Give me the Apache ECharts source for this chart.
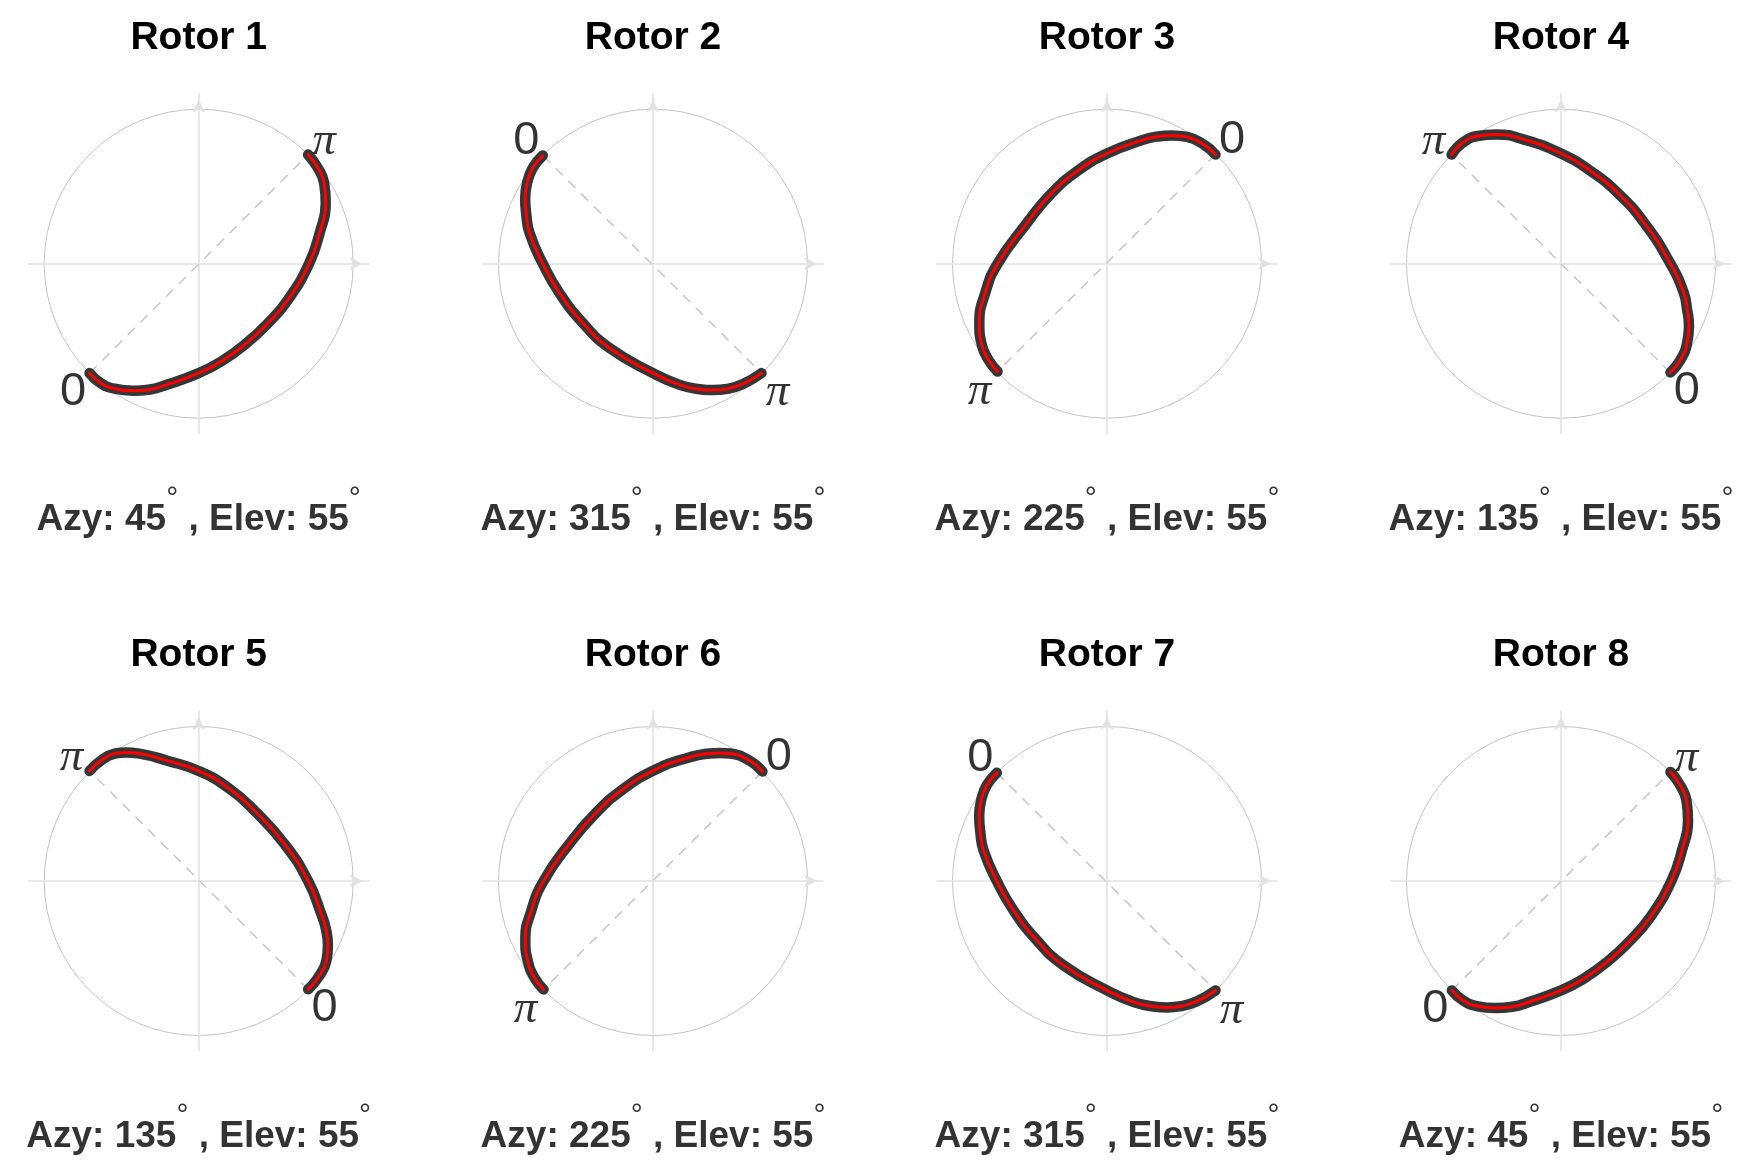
<!DOCTYPE html>
<html><head><meta charset="utf-8">
<script src="https://cdn.jsdelivr.net/npm/echarts/dist/echarts.min.js"></script>
<style>html,body{margin:0;padding:0;background:#fff}#c{width:1748px;height:1166px}</style>
</head><body><div id="c"></div>
<script>
// ---- data (unit circle coordinates, each curve listed from the "0" end to the "π" end) ----
const titles = ['Rotor 1', 'Rotor 2', 'Rotor 3', 'Rotor 4', 'Rotor 5', 'Rotor 6', 'Rotor 7', 'Rotor 8'];
const azimuths = [45, 315, 225, 135, 135, 225, 315, 45];
const elevations = [55, 55, 55, 55, 55, 55, 55, 55];
const endLabels = ['0', 'π'];

const rotor1 = [[-0.706,-0.708],[-0.635,-0.772],[-0.545,-0.809],[-0.425,-0.822],[-0.315,-0.814],[-0.198,-0.780],[0,-0.708],[0.147,-0.632],[0.298,-0.524],[0.449,-0.384],[0.578,-0.233],[0.714,0],[0.783,0.200],[0.822,0.390],[0.812,0.520],[0.772,0.618],[0.708,0.706]];
const rotor2 = [[-0.713,0.700],[-0.778,0.620],[-0.815,0.520],[-0.827,0.420],[-0.820,0.320],[-0.799,0.199],[-0.713,0],[-0.605,-0.190],[-0.454,-0.384],[-0.281,-0.546],[0,-0.708],[0.173,-0.784],[0.300,-0.812],[0.390,-0.818],[0.480,-0.810],[0.583,-0.778],[0.702,-0.708]];
const rotor3 = [[0.702,0.706],[0.626,0.771],[0.518,0.820],[0.420,0.830],[0.320,0.822],[0.238,0.803],[0,0.713],[-0.194,0.598],[-0.367,0.447],[-0.518,0.263],[-0.708,0],[-0.788,-0.190],[-0.826,-0.384],[-0.810,-0.525],[-0.767,-0.622],[-0.708,-0.698]];
const rotor4 = [[0.708,-0.704],[0.773,-0.622],[0.816,-0.514],[0.828,-0.400],[0.815,-0.290],[0.795,-0.190],[0.708,0],[0.540,0.263],[0.367,0.458],[0.194,0.598],[0,0.713],[-0.238,0.803],[-0.420,0.836],[-0.540,0.826],[-0.637,0.782],[-0.708,0.706]];
const rotor5 = [[0.708,-0.701],[0.772,-0.626],[0.826,-0.518],[0.836,-0.415],[0.823,-0.310],[0.794,-0.216],[0.708,0],[0.557,0.237],[0.363,0.453],[0.190,0.604],[0,0.712],[-0.198,0.777],[-0.393,0.826],[-0.470,0.832],[-0.544,0.824],[-0.630,0.781],[-0.706,0.712]];
const rotor6 = [[0.708,0.708],[0.626,0.778],[0.497,0.825],[0.430,0.829],[0.367,0.825],[0.194,0.788],[0,0.713],[-0.194,0.594],[-0.367,0.443],[-0.540,0.242],[-0.708,0],[-0.788,-0.194],[-0.826,-0.380],[-0.810,-0.518],[-0.767,-0.626],[-0.708,-0.702]];
const rotor7 = [[-0.713,0.700],[-0.778,0.620],[-0.815,0.520],[-0.827,0.420],[-0.820,0.320],[-0.799,0.199],[-0.713,0],[-0.605,-0.190],[-0.454,-0.384],[-0.281,-0.546],[0,-0.708],[0.173,-0.784],[0.300,-0.812],[0.390,-0.818],[0.480,-0.810],[0.583,-0.778],[0.702,-0.708]];
const rotor8 = [[-0.706,-0.708],[-0.635,-0.772],[-0.545,-0.809],[-0.425,-0.822],[-0.315,-0.814],[-0.198,-0.780],[0,-0.708],[0.147,-0.632],[0.298,-0.524],[0.449,-0.384],[0.578,-0.233],[0.714,0],[0.783,0.200],[0.822,0.390],[0.812,0.520],[0.772,0.618],[0.708,0.706]];
const curves = [rotor1, rotor2, rotor3, rotor4, rotor5, rotor6, rotor7, rotor8];

// ---- layout ----
const colX = [198.7, 653, 1107, 1561];
const rowY = [263.7, 881];
const HALF = 170;          // half size of each plot box (px)
const R = 154.5;           // circle radius (px) == 1 data unit
const SANS = '"Liberation Sans", Arial, Helvetica, sans-serif';

const grid = [], xAxis = [], yAxis = [], polar = [], angleAxis = [], radiusAxis = [], series = [], graphic = [];

curves.forEach((c, i) => {
  const cx = colX[i % 4], cy = rowY[Math.floor(i / 4)];
  grid.push({left: cx - HALF, top: cy - HALF, width: 2 * HALF, height: 2 * HALF});
  const ax = () => ({
    type: 'value', min: -1.1, max: 1.1, gridIndex: i,
    axisTick: {show: false}, axisLabel: {show: false}, splitLine: {show: false},
    axisLine: {show: true, onZero: true, symbol: ['none', 'arrow'], symbolSize: [10, 13], symbolOffset: [0, -6],
      lineStyle: {color: '#e2e2e2', width: 1.6}}
  });
  xAxis.push(ax());
  yAxis.push(ax());
  polar.push({center: [cx, cy], radius: R});
  angleAxis.push({polarIndex: i, type: 'value', min: 0, max: 360, startAngle: 90,
    axisLine: {show: true, lineStyle: {color: '#c4c4c4', width: 1}},
    axisTick: {show: false}, axisLabel: {show: false}, splitLine: {show: false}});
  radiusAxis.push({polarIndex: i, type: 'value', min: 0, max: 1, show: false});

  const first = c[0], last = c[c.length - 1];
  series.push({type: 'line', xAxisIndex: i, yAxisIndex: i, data: [first, last], showSymbol: false, silent: true,
    lineStyle: {color: '#c9c9c9', width: 1.6, type: [10, 8]}, z: 2});
  series.push({type: 'line', xAxisIndex: i, yAxisIndex: i, data: c, smooth: true, showSymbol: false, silent: true,
    lineStyle: {color: '#363636', width: 10.5, cap: 'round', join: 'round'}, z: 3});
  series.push({type: 'line', xAxisIndex: i, yAxisIndex: i, data: c, smooth: true, showSymbol: false, silent: true,
    lineStyle: {color: '#ff0000', width: 3, cap: 'round', join: 'round'}, z: 4});

  const lbl = (p, k) => {
    const up = p[1] > 0, right = p[0] > 0;
    let dx, dy;
    if (k === 0) { dx = right ? 16.5 : -16.5; dy = up ? -14.5 : 18.5; }
    else { dx = right ? 16 : -18; dy = up ? -13 : 20; }
    return {value: p, label: {show: true, position: 'inside', offset: [dx, dy], formatter: endLabels[k],
      color: '#000', fontSize: 47, fontStyle: k === 0 ? 'normal' : 'italic',
      fontFamily: k === 0 ? SANS : '"Liberation Serif", "Times New Roman", serif'}};
  };
  series.push({type: 'scatter', xAxisIndex: i, yAxisIndex: i, symbolSize: 0, silent: true, z: 5,
    data: [lbl(first, 0), lbl(last, 1)]});

  graphic.push({type: 'text', x: cx, y: cy - 225.7, silent: true,
    style: {text: titles[i], font: 'bold 39px ' + SANS, fill: '#000', align: 'center', verticalAlign: 'middle', textAlign: 'center', textVerticalAlign: 'middle'}});
  graphic.push({type: 'text', x: cx, y: cy + 256, silent: true,
    style: {text: '{m|Azy: ' + azimuths[i] + '}{s|°}{m| , Elev: ' + elevations[i] + '}{s|°}',
      align: 'center', verticalAlign: 'middle', textAlign: 'center', textVerticalAlign: 'middle',
      rich: {
        m: {font: 'bold 37px ' + SANS, fill: '#333', lineHeight: 72},
        s: {font: '30px ' + SANS, fill: '#333', lineHeight: 12, verticalAlign: 'top'}
      }}});
});

const chart = echarts.init(document.getElementById('c'), null, {renderer: 'canvas'});
chart.setOption({
  animation: false,
  backgroundColor: '#fff',
  grid, xAxis, yAxis, polar, angleAxis, radiusAxis, series, graphic
});
</script>
</body></html>
